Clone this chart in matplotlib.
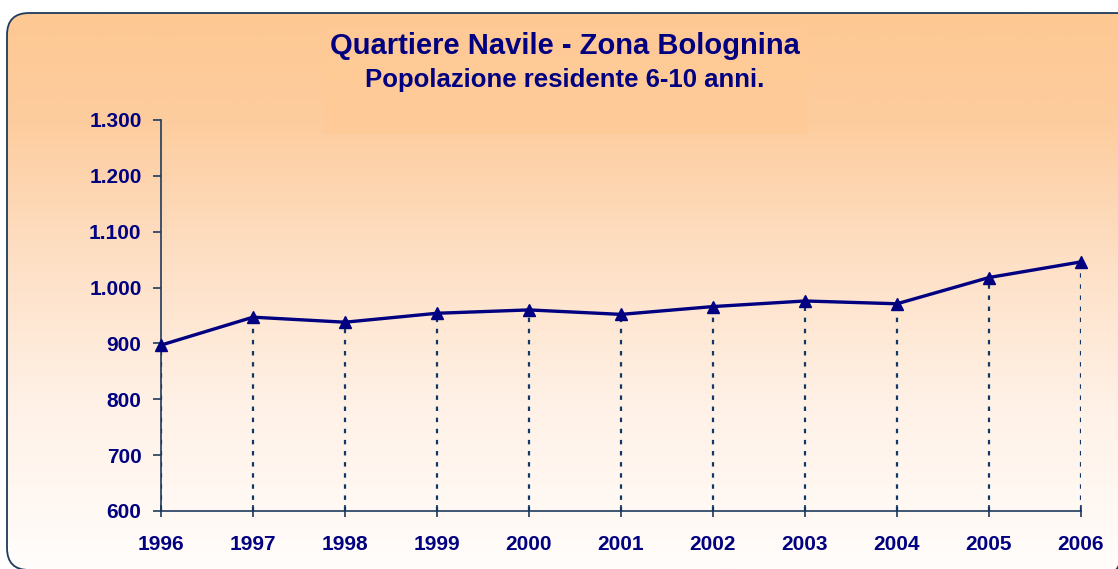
import numpy as np
import matplotlib.pyplot as plt
from matplotlib.patches import FancyBboxPatch, Rectangle
from matplotlib.ticker import FuncFormatter
from matplotlib.colors import LinearSegmentedColormap

years = [1996, 1997, 1998, 1999, 2000, 2001, 2002, 2003, 2004, 2005, 2006]
residents = [897, 947, 938, 954, 960, 952, 966, 976, 971, 1018, 1046]
yticks = [600, 700, 800, 900, 1000, 1100, 1200, 1300]

navy = '#000080'
spine_col = '#1f3a5c'

plt.rcParams['font.family'] = ['Liberation Sans', 'DejaVu Sans']
plt.rcParams['font.weight'] = 'bold'

fig = plt.figure(figsize=(11.18, 5.69), dpi=100)

# background with gradient inside a rounded frame
bg = fig.add_axes([0, 0, 1, 1])
bg.set_xlim(0, 1118)
bg.set_ylim(569, 0)
bg.axis('off')
cmap = LinearSegmentedColormap.from_list(
    'peach', [(0, '#fdc892'), (0.2, '#fdcd9f'), (0.45, '#fee0c6'),
              (0.7, '#fff1e6'), (1, '#fffdfb')])
grad = np.linspace(0, 1, 256).reshape(-1, 1)
frame = FancyBboxPatch((7, 13), 1130, 557, boxstyle='round,pad=0,rounding_size=22',
                       facecolor='none', edgecolor=spine_col, linewidth=1.3, zorder=3)
bg.add_patch(frame)
im = bg.imshow(grad, cmap=cmap, extent=[7, 1118, 569, 13], aspect='auto', zorder=1)
im.set_clip_path(frame)
bg.add_patch(Rectangle((323, 27), 484, 107, facecolor='#ffca96', edgecolor='none',
                       alpha=0.75, zorder=2))
bg.text(565, 46, 'Quartiere Navile - Zona Bolognina', ha='center', va='center',
        color=navy, fontsize=21, fontweight='bold', zorder=4)
bg.text(565, 80, 'Popolazione residente 6-10 anni.', ha='center', va='center',
        color=navy, fontsize=18.5, fontweight='bold', zorder=4)

ax = fig.add_axes([161 / 1118, 58 / 569, 920 / 1118, 391 / 569])
ax.patch.set_alpha(0)
ax.plot(years, residents, color=navy, linewidth=2.4, marker='^', markersize=8,
        zorder=5, clip_on=False)
ax.vlines(years, 600, residents, colors='#0f3868', linestyles=(0, (2, 3)),
          linewidth=1.6, zorder=3)

ax.set_xlim(1996, 2006)
ax.set_ylim(600, 1300)
ax.set_xticks(years)
ax.set_yticks(yticks)
ax.yaxis.set_major_formatter(FuncFormatter(lambda v, p: f'{int(v):,}'.replace(',', '.')))
for s in ['top', 'right']:
    ax.spines[s].set_visible(False)
for s in ['left', 'bottom']:
    ax.spines[s].set_color(spine_col)
    ax.spines[s].set_linewidth(1.2)
ax.tick_params(axis='y', direction='out', length=6, color=spine_col, width=1.2,
               labelsize=15, labelcolor=navy, pad=8)
ax.tick_params(axis='x', direction='inout', length=8, color=spine_col, width=1.2,
               labelsize=15, labelcolor=navy, pad=13)
for lbl in ax.get_xticklabels() + ax.get_yticklabels():
    lbl.set_fontweight('bold')

fig.savefig('out.png', dpi=100)
